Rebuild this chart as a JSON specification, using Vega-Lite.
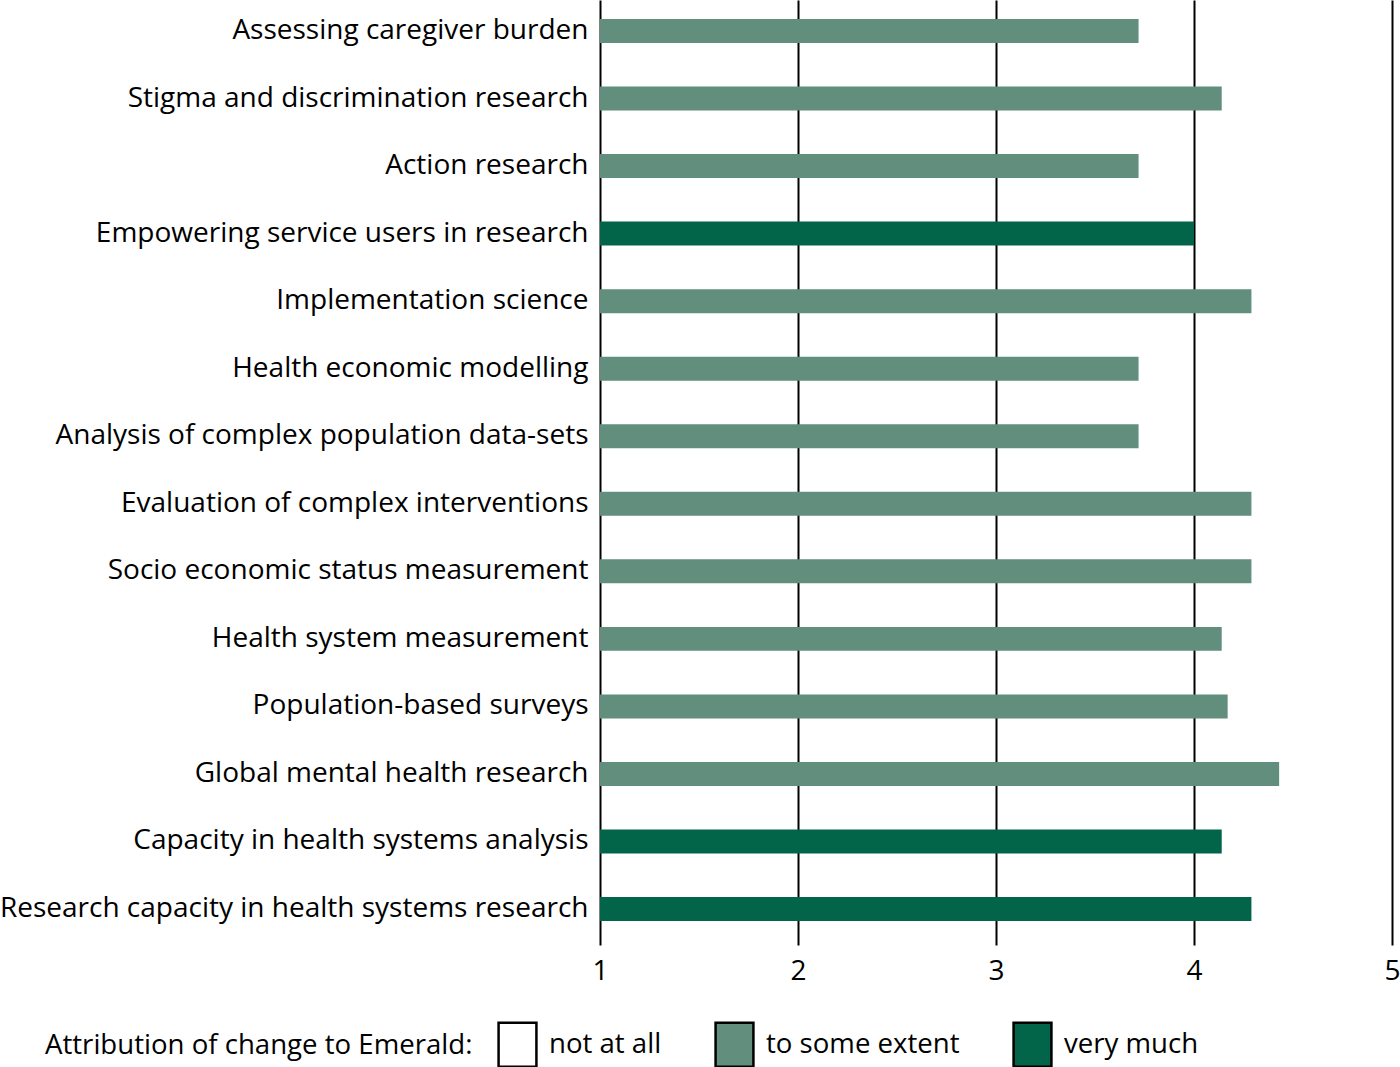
{
  "$schema": "https://vega.github.io/schema/vega-lite/v6.json",
  "width": 792,
  "height": 945,
  "autosize": {"type": "none"},
  "padding": {"left": 600, "top": 0, "right": 8, "bottom": 122},
  "background": "white",
  "config": {"view": {"stroke": null}, "font": "Open Sans"},
  "data": {
    "values": [
      {"item": "Assessing caregiver burden", "value": 3.72, "attr": "to some extent"},
      {"item": "Stigma and discrimination research", "value": 4.14, "attr": "to some extent"},
      {"item": "Action research", "value": 3.72, "attr": "to some extent"},
      {"item": "Empowering service users in research", "value": 4.0, "attr": "very much"},
      {"item": "Implementation science", "value": 4.29, "attr": "to some extent"},
      {"item": "Health economic modelling", "value": 3.72, "attr": "to some extent"},
      {"item": "Analysis of complex population data-sets\u2002", "value": 3.72, "attr": "to some extent"},
      {"item": "Evaluation of complex interventions", "value": 4.29, "attr": "to some extent"},
      {"item": "Socio economic status measurement", "value": 4.29, "attr": "to some extent"},
      {"item": "Health system measurement", "value": 4.14, "attr": "to some extent"},
      {"item": "Population-based surveys", "value": 4.17, "attr": "to some extent"},
      {"item": "Global mental health research", "value": 4.43, "attr": "to some extent"},
      {"item": "Capacity in health systems analysis", "value": 4.14, "attr": "very much"},
      {"item": "Research capacity in health systems research", "value": 4.29, "attr": "very much"}
    ]
  },
  "mark": {"type": "bar"},
  "encoding": {
    "y": {
      "field": "item",
      "type": "nominal",
      "sort": null,
      "scale": {"paddingInner": 0.645, "paddingOuter": 0.318, "align": 0.442},
      "axis": {
        "title": null,
        "ticks": false,
        "domain": false,
        "labelFontSize": 28,
        "labelColor": "black",
        "labelPadding": 12,
        "labelLimit": 0
      }
    },
    "x": {
      "field": "value",
      "type": "quantitative",
      "scale": {"domain": [1, 5], "nice": false, "zero": false},
      "axis": {
        "title": null,
        "values": [1, 2, 3, 4, 5],
        "format": "d",
        "grid": true,
        "gridColor": "black",
        "gridWidth": 2,
        "gridOpacity": 1,
        "domain": false,
        "ticks": false,
        "labelFontSize": 28,
        "labelColor": "black",
        "labelPadding": 12,
        "labelFlush": false
      }
    },
    "x2": {"datum": 1},
    "color": {
      "field": "attr",
      "type": "nominal",
      "scale": {
        "domain": ["not at all", "to some extent", "very much"],
        "range": ["#ffffff", "#618e7d", "#02654a"]
      },
      "legend": {
        "orient": "none",
        "legendX": -555,
        "legendY": 1021,
        "direction": "horizontal",
        "title": "Attribution of change to Emerald:",
        "titleOrient": "left",
        "titleFontSize": 27.6,
        "titleFontWeight": "normal",
        "titleColor": "black",
        "titlePadding": 21,
        "titleLimit": 1000,
        "labelFontSize": 27.6,
        "labelColor": "black",
        "labelOffset": 8,
        "labelLimit": 0,
        "columnPadding": 48,
        "symbolType": "M-0.86,-1H0.86V1H-0.86Z",
        "symbolSize": 1936,
        "symbolStrokeColor": "black",
        "symbolStrokeWidth": 2.5,
        "symbolOpacity": 1
      }
    }
  }
}
